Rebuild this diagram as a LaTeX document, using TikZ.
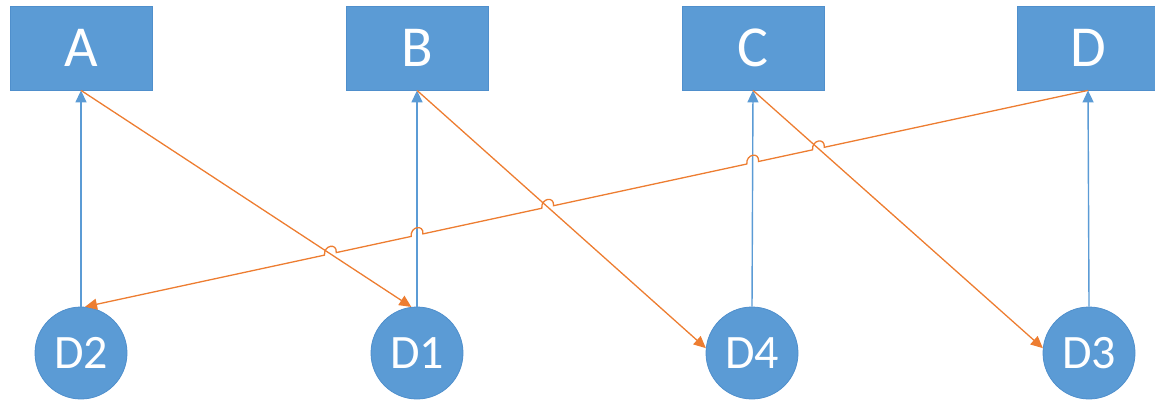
\documentclass[tikz,border=0pt]{standalone}
\usepackage{fontspec}
\setmainfont{Carlito}
\usetikzlibrary{arrows.meta,calc,intersections}
\definecolor{obox}{HTML}{5B9BD5}
\definecolor{oboxline}{HTML}{4F8FCC}
\definecolor{oorange}{HTML}{ED7D31}
\tikzset{
  boxnode/.style={rectangle,fill=obox,draw=oboxline,line width=0.8pt,minimum width=142pt,minimum height=84pt,inner sep=0pt,text=white,font=\fontsize{58}{60}\selectfont},
  circnode/.style={circle,fill=obox,draw=oboxline,line width=0.8pt,minimum size=92pt,inner sep=0pt,text=white,font=\fontsize{48}{50}\selectfont},
  blueconn/.style={draw=obox,line width=1.4pt,-{Triangle[length=12pt,width=11pt]}},
  orangeconn/.style={draw=oorange,line width=1.3pt,-{Triangle[length=12pt,width=11pt]}},
}
\begin{document}
\begin{tikzpicture}[x=1pt,y=-1pt]
\useasboundingbox (0,0) rectangle (1155,400);
\node[boxnode] (A) at (81,48) {A};
\node[boxnode] (B) at (417,48) {B};
\node[boxnode] (C) at (753,48) {C};
\node[boxnode] (D) at (1088,48) {D};
\node[circnode] (D2) at (81,353) {D2};
\node[circnode] (D1) at (417,353) {D1};
\node[circnode] (D4) at (752,353) {D4};
\node[circnode] (D3) at (1089,353) {D3};
% blue connectors
\draw[blueconn,name path=vA] (D2.north) -- (A.south);
\draw[blueconn,name path=vB] (D1.north) -- (B.south);
\draw[blueconn,name path=vC] (D4.north) -- (C.south);
\draw[blueconn,name path=vD] (D3.north) -- (D.south);
% orange connectors
\draw[orangeconn,name path=oA] (A.south) -- (D1.97);
\draw[orangeconn,name path=oB] (B.south) -- (D4.174);
\draw[orangeconn,name path=oC] (C.south) -- (D3.174);
% line with hops
\path[name path=L] (D.south) -- (D2.85);
\path[name intersections={of=L and oC,by=i1}];
\path[name intersections={of=L and vC,by=i2}];
\path[name intersections={of=L and oB,by=i3}];
\path[name intersections={of=L and vB,by=i4}];
\path[name intersections={of=L and oA,by=i5}];
\foreach \k in {1,...,5}{
  \coordinate (h\k a) at ($(i\k)!6pt!(D.south)$);
  \coordinate (h\k b) at ($(i\k)!6pt!(D2.85)$);
}
\draw[orangeconn] (D.south)
  -- (h1a) .. controls ($(h1a)+(1,-10)$) and ($(h1b)+(-1,-10)$) .. (h1b)
  -- (h2a) .. controls ($(h2a)+(1,-10)$) and ($(h2b)+(-1,-10)$) .. (h2b)
  -- (h3a) .. controls ($(h3a)+(1,-10)$) and ($(h3b)+(-1,-10)$) .. (h3b)
  -- (h4a) .. controls ($(h4a)+(1,-10)$) and ($(h4b)+(-1,-10)$) .. (h4b)
  -- (h5a) .. controls ($(h5a)+(1,-10)$) and ($(h5b)+(-1,-10)$) .. (h5b)
  -- (D2.85);
\end{tikzpicture}
\end{document}
